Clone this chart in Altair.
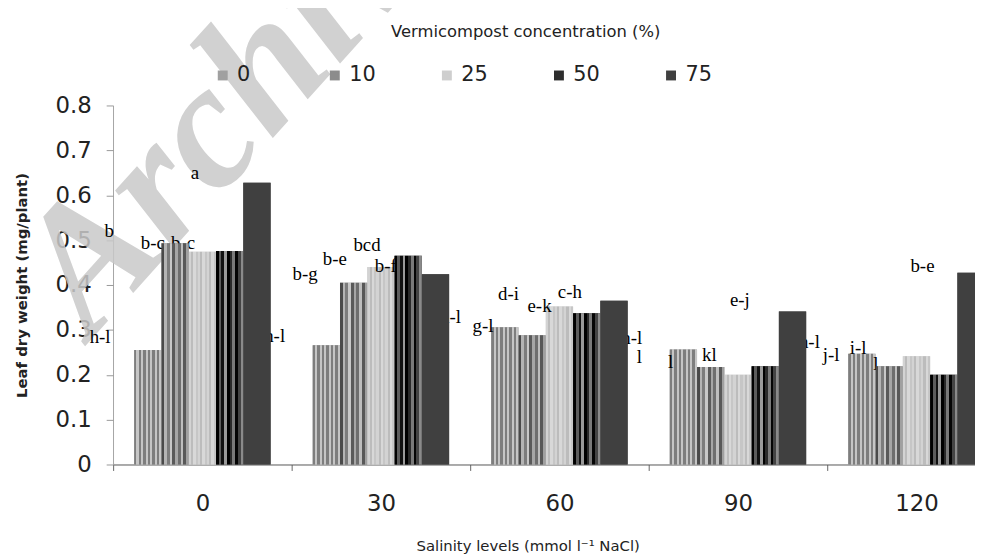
import altair as alt
import pandas as pd

# ---------------- data ----------------
salinity = ["0", "30", "60", "90", "120"]
vermi = ["0", "10", "25", "50", "75"]

# leaf dry weight per salinity level, one value per vermicompost level (0,10,25,50,75)
dw_sal_0 = [0.255, 0.493, 0.474, 0.476, 0.628]
dw_sal_30 = [0.266, 0.405, 0.440, 0.465, 0.424]
dw_sal_60 = [0.306, 0.288, 0.352, 0.337, 0.365]
dw_sal_90 = [0.256, 0.217, 0.200, 0.219, 0.341]
dw_sal_120 = [0.247, 0.219, 0.241, 0.200, 0.427]

# letter annotations (Duncan groups) as placed in the figure
label_group = ["0", "0", "0", "0", "0", "0",
               "30", "30", "30", "30", "30",
               "60", "60", "60", "60", "60", "60",
               "90", "90", "90", "90", "90",
               "120", "120", "120"]
label_text = ["h-l", "b", "b-c", "b-c", "a", "h-l",
              "b-g", "b-e", "bcd", "b-f", "h-l",
              "g-l", "d-i", "e-k", "c-h", "h-l", "l",
              "l", "kl", "e-j", "h-l", "j-l",
              "i-l", "l", "b-e"]
# horizontal place inside the group, in bar widths from the group's first bar
label_slot = [-1.25, -0.92, 0.68, 1.79, 2.23, 5.15,
              -0.28, 0.81, 1.99, 2.68, 5.05,
              -0.30, 0.63, 1.77, 2.88, 5.15, 5.43,
              0.03, 1.45, 2.57, 5.12, 5.92,
              0.36, 1.01, 2.72]
label_value = [0.283, 0.520, 0.4935, 0.4935, 0.650, 0.287,
               0.424, 0.457, 0.488, 0.442, 0.329,
               0.309, 0.380, 0.354, 0.385, 0.282, 0.240,
               0.228, 0.245, 0.367, 0.272, 0.243,
               0.260, 0.223, 0.442]

y_ticks = [0, 0.1, 0.2, 0.3, 0.4, 0.5, 0.6, 0.7, 0.8]

series_values = [dw_sal_0, dw_sal_30, dw_sal_60, dw_sal_90, dw_sal_120]
rows = []
for s, vals in zip(salinity, series_values):
    for v, val in zip(vermi, vals):
        rows.append({"Salinity": s, "Vermicompost": v, "value": val})
bars_df = pd.DataFrame(rows)

labels_df = pd.DataFrame({
    "Salinity": label_group,
    "label": label_text,
    "slot": label_slot,
    "ly": label_value,
})

# ---------------- styling ----------------
bar_colors = ["#a0a0a0", "#8c8c8c", "#cecece", "#2e2e2e", "#404040"]
SANS = "DejaVu Sans"
SERIF = "Liberation Serif"

PLOT_W = 868
PLOT_H = 362
STEP_RANGE = 900  # 5 steps of 180 px, the last group runs past the page edge


def stripes(colors):
    n = len(colors)
    stops = []
    for i, c in enumerate(colors):
        stops.append(alt.GradientStop(offset=i / n, color=c))
        stops.append(alt.GradientStop(offset=(i + 1) / n, color=c))
    return alt.Gradient(gradient="linear", stops=stops, x1=0, x2=1, y1=0, y2=0)


x_scale = alt.Scale(domain=salinity, range=[0, STEP_RANGE], paddingInner=0.236, paddingOuter=0.118)
y_scale = alt.Scale(domain=[0, 0.8], nice=False, zero=True)
off_scale = alt.Scale(domain=vermi, paddingInner=0, paddingOuter=0)

x_axis = alt.Axis(
    title="Salinity levels (mmol l\u207b\u00b9 NaCl)",
    labelAngle=0, labelFont=SANS, labelFontSize=23, labelColor="#222",
    labelPadding=22, tickSize=6, tickColor="#666", domainColor="#555",
    tickOffset=-90, labelOffset=90, grid=False,
    titleFont=SANS, titleFontSize=15, titleFontWeight="normal", titleColor="#222",
    titleX=418, titleY=82, titleBaseline="middle", titleAlign="center",
)
y_axis = alt.Axis(
    title="Leaf dry weight (mg/plant)", values=y_ticks, format=".1~f",
    labelFont=SANS, labelFontSize=23, labelColor="#222", labelPadding=15,
    tickSize=7, tickColor="#999", domainColor="#999", grid=False,
    titleFont=SANS, titleFontSize=15, titleFontWeight="bold", titleColor="#222",
    titlePadding=26,
)

# plain white plot background (covers any default frame or grid)
backdrop = alt.Chart(pd.DataFrame({"k": [0]})).mark_rect(color="white").encode(
    x=alt.value(1), x2=alt.value(PLOT_W + 2), y=alt.value(-2), y2=alt.value(PLOT_H - 1)
)

# watermark
watermark = alt.Chart(pd.DataFrame({"t": ["Archive of SID"]})).mark_text(
    font=SERIF, fontSize=180, fontStyle="italic", fontWeight="bold",
    color="#c9c9c9", opacity=0.85, angle=312, align="left", baseline="alphabetic",
).encode(x=alt.value(-22), y=alt.value(236), text="t:N")

legend_title = alt.Chart(pd.DataFrame({"t": ["Vermicompost concentration (%)"]})).mark_text(
    font=SANS, fontSize=16.5, color="#222", align="center", baseline="middle",
).encode(x=alt.value(416), y=alt.value(-74), text="t:N")

base = alt.Chart(bars_df)

bars = base.mark_bar().encode(
    x=alt.X("Salinity:N", scale=x_scale, axis=x_axis, sort=salinity),
    xOffset=alt.XOffset("Vermicompost:N", scale=off_scale, sort=vermi),
    y=alt.Y("value:Q", scale=y_scale, axis=y_axis),
    color=alt.Color(
        "Vermicompost:N", sort=vermi,
        scale=alt.Scale(domain=vermi, range=bar_colors),
        legend=alt.Legend(
            title=None, orient="none", legendX=100, legendY=-41,
            direction="horizontal", columns=5, gridAlign="all", columnPadding=61,
            symbolType="square", symbolSize=100, symbolStrokeWidth=0,
            labelFont=SANS, labelFontSize=21, labelColor="#222", labelOffset=4,
        ),
    ),
)


def overlay(series, fill):
    return base.transform_filter(alt.datum.Vermicompost == series).mark_bar(color=fill).encode(
        x=alt.X("Salinity:N", scale=x_scale, axis=x_axis, sort=salinity),
        xOffset=alt.XOffset("Vermicompost:N", scale=off_scale, sort=vermi),
        y=alt.Y("value:Q", scale=y_scale, axis=y_axis),
    )


g0 = overlay("0", stripes(["#7e7e7e", "#c6c6c6"] * 6))
g25 = overlay("25", stripes(["#d3d3d3", "#bcbcbc", "#d8d8d8", "#c6c6c6"] * 3))
g10 = overlay("10", stripes(["#4a4a4a", "#b4b4b4", "#7c7c7c", "#c8c8c8", "#5a5a5a",
                             "#a6a6a6", "#6e6e6e", "#bebebe", "#585858", "#a0a0a0"]))
g50 = overlay("50", stripes(["#000000", "#5c5c5c", "#111111", "#9a9a9a", "#000000",
                             "#2a2a2a", "#7a7a7a", "#050505", "#444444", "#8a8a8a"]))
g75 = overlay("75", "#404040")

labels = alt.Chart(labels_df).mark_text(
    font=SERIF, fontSize=19, color="#000", align="center", baseline="middle",
).encode(
    x=alt.X("Salinity:N", scale=x_scale, axis=x_axis, sort=salinity),
    xOffset=alt.XOffset("slot:Q", scale=alt.Scale(domain=[0, 5], range=[0, 137.5], nice=False, zero=False)),
    y=alt.Y("ly:Q", scale=y_scale, axis=y_axis),
    text="label:N",
)

chart = alt.layer(
    backdrop, watermark, legend_title, bars, g0, g25, labels, g10, g50, g75
).resolve_scale(
    xOffset="independent"
).properties(
    width=PLOT_W, height=PLOT_H,
    autosize=alt.AutoSizeParams(type="none"),
    padding={"left": 106, "top": 96, "right": 1, "bottom": 93},
    background="white",
).configure_view(
    strokeWidth=0
).configure_axis(
    grid=False
)

chart.save("out.html", embed_options={"renderer": "svg", "actions": False})
